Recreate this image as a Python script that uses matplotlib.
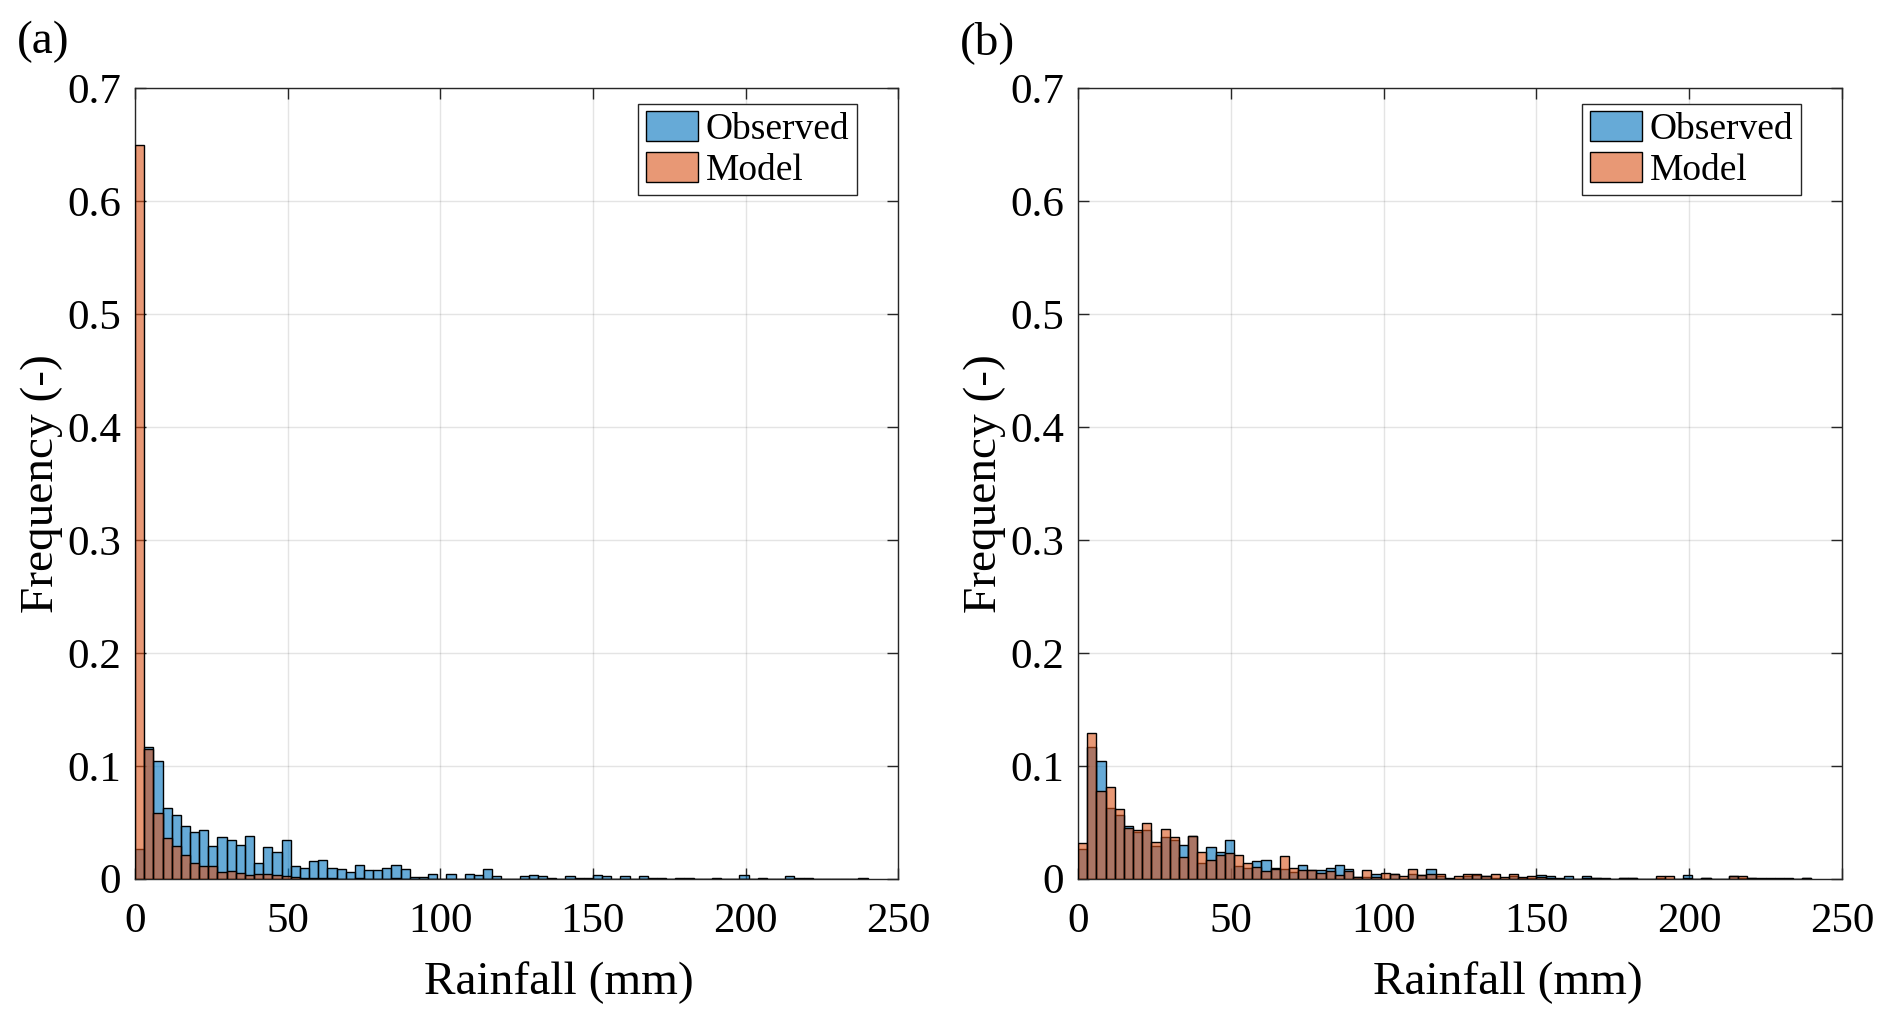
import numpy as np
import matplotlib.pyplot as plt
from matplotlib.patches import Patch

plt.rcParams['font.family'] = ['Liberation Serif', 'DejaVu Serif']

# histogram bins: 3 mm wide, 0 to 240 mm
bin_width = 3.0
bin_edges = np.arange(0, 243, bin_width)

# observed rainfall frequency (same in both panels)
observed = [
    0.026, 0.117, 0.104, 0.063, 0.056, 0.047, 0.041, 0.043, 0.029, 0.037,
    0.034, 0.030, 0.038, 0.014, 0.028, 0.024, 0.034, 0.011, 0.0097, 0.0156,
    0.0168, 0.0097, 0.0086, 0.0062, 0.0124, 0.0077, 0.0074, 0.0098, 0.0124, 0.0087,
    0.0018, 0.0016, 0.0042, 0.0, 0.0044, 0.0, 0.0044, 0.0032, 0.0088, 0.002,
    0.0, 0.0, 0.002, 0.0032, 0.002, 0.001, 0.0, 0.002, 0.001, 0.001,
    0.003, 0.002, 0.0, 0.002, 0.0, 0.0025, 0.001, 0.001, 0.0, 0.001,
    0.001, 0.0, 0.0, 0.001, 0.0, 0.0, 0.003, 0.0, 0.001, 0.0,
    0.0, 0.0025, 0.001, 0.001, 0.0, 0.0, 0.0, 0.0, 0.0, 0.001,
]

# model (a)
model_a = [
    0.65, 0.115, 0.058, 0.036, 0.029, 0.021, 0.0136, 0.011, 0.011, 0.006,
    0.007, 0.005, 0.003, 0.004, 0.0045, 0.003, 0.0024, 0.0015, 0.001, 0.001,
    0.0008, 0.0005, 0.0, 0.0, 0.0005, 0.0, 0.0, 0.0, 0.0005, 0.0,
    0.0, 0.0, 0.0, 0.0, 0.0, 0.0, 0.0, 0.0, 0.0, 0.0,
    0.0, 0.0, 0.0, 0.0, 0.0, 0.0, 0.0, 0.0, 0.0, 0.0,
    0.0, 0.0, 0.0, 0.0, 0.0, 0.0, 0.0, 0.0, 0.0, 0.0,
    0.0, 0.0, 0.0, 0.0, 0.0, 0.0, 0.0, 0.0, 0.0, 0.0,
    0.0, 0.0, 0.0, 0.0, 0.0, 0.0, 0.0, 0.0, 0.0, 0.0,
]

# model (b)
model_b = [
    0.032, 0.129, 0.078, 0.081, 0.062, 0.045, 0.043, 0.0496, 0.0326, 0.044,
    0.037, 0.019, 0.038, 0.024, 0.0166, 0.021, 0.0225, 0.021, 0.014, 0.010,
    0.007, 0.009, 0.020, 0.0098, 0.0077, 0.008, 0.0047, 0.007, 0.003, 0.007,
    0.0015, 0.0077, 0.0018, 0.0047, 0.004, 0.0027, 0.0086, 0.0036, 0.004, 0.004,
    0.001, 0.0027, 0.0039, 0.0039, 0.0027, 0.0039, 0.0018, 0.0039, 0.0012, 0.0027,
    0.0015, 0.001, 0.001, 0.0, 0.0, 0.001, 0.001, 0.0, 0.0, 0.001,
    0.001, 0.0, 0.0, 0.002, 0.002, 0.0, 0.001, 0.0, 0.001, 0.0,
    0.0, 0.002, 0.002, 0.001, 0.001, 0.001, 0.001, 0.001, 0.0, 0.001,
]

x_ticks = [0, 50, 100, 150, 200, 250]
y_ticks = [0, 0.1, 0.2, 0.3, 0.4, 0.5, 0.6, 0.7]
panel_labels = ['(a)', '(b)']
series_names = ['Observed', 'Model']

blue = (0.0, 0.447, 0.741, 0.6)
orange = (0.85, 0.325, 0.098, 0.6)
axis_col = (0.15, 0.15, 0.15)

fig = plt.figure(figsize=(18.92, 10.25), dpi=100)
axes = [fig.add_axes([0.0714, 0.1427, 0.4033, 0.7714]),
        fig.add_axes([0.5698, 0.1427, 0.4038, 0.7714])]
xlabel_x = [0.555, 0.562]  # x-labels sit a bit right of centre in the original

for ax, model, lab, lx in zip(axes, [model_a, model_b], panel_labels, xlabel_x):
    left = bin_edges[:-1]
    ax.bar(left, observed, width=bin_width, align='edge', facecolor=blue,
           edgecolor='black', linewidth=1.0, zorder=2)
    ax.bar(left, model, width=bin_width, align='edge', facecolor=orange,
           edgecolor='black', linewidth=1.0, zorder=3)

    ax.set_xlim(0, 250)
    ax.set_ylim(0, 0.7)
    ax.set_xticks(x_ticks)
    ax.set_yticks(y_ticks)
    ax.set_yticklabels(['0'] + [f'{v:.1f}' for v in y_ticks[1:]])
    ax.grid(True, color=axis_col, alpha=0.12, linewidth=1.0, zorder=0)
    ax.set_axisbelow(True)
    ax.tick_params(direction='in', top=True, right=True, length=8,
                   width=1.0, color=axis_col, labelsize=31, pad=10)
    ax.tick_params(axis='x', pad=17)
    for s in ax.spines.values():
        s.set_color(axis_col)
        s.set_linewidth(1.0)
    ax.set_xlabel('Rainfall (mm)', fontsize=34)
    ax.xaxis.set_label_coords(lx, -0.105)
    ax.set_ylabel('Frequency (-)', fontsize=34, labelpad=3)
    ax.text(-0.155, 1.058, lab, transform=ax.transAxes, fontsize=34,
            ha='left', va='center')

    handles = [Patch(facecolor=blue, edgecolor='black', linewidth=1.0),
               Patch(facecolor=orange, edgecolor='black', linewidth=1.0)]
    leg = ax.legend(handles, series_names, loc='upper right',
                    bbox_to_anchor=(0.946, 0.98), borderaxespad=0,
                    fontsize=27, fancybox=False, framealpha=1,
                    edgecolor=axis_col, handlelength=1.4, handleheight=0.85,
                    handletextpad=0.2, labelspacing=0.12, borderpad=0.2)
    leg.get_frame().set_linewidth(1.0)

fig.savefig('out.png', dpi=100)
